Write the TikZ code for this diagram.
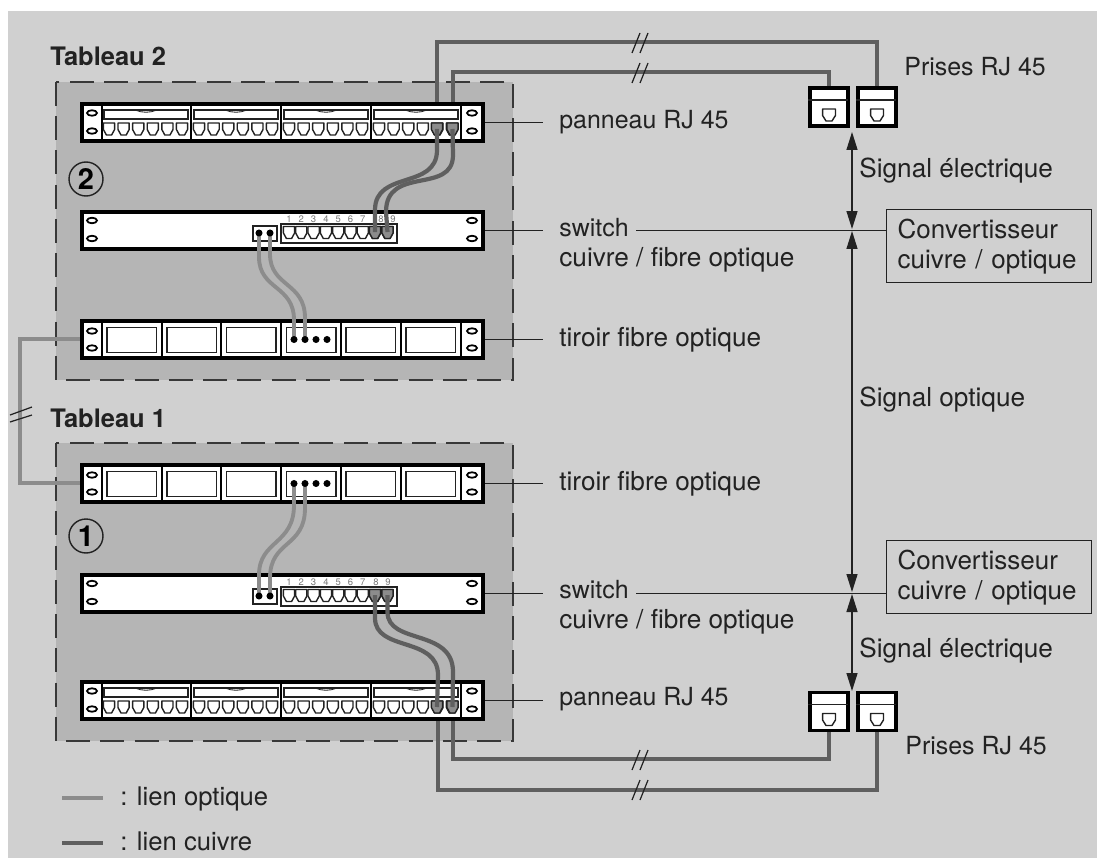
\documentclass[tikz,border=0pt]{standalone}
\usepackage{fontspec}
\setmainfont{TeX Gyre Heros}
\usepackage{xcolor}
\usetikzlibrary{arrows.meta}
\definecolor{fond}{RGB}{208,208,208}
\definecolor{tableau}{RGB}{181,181,181}
\definecolor{optique}{RGB}{140,140,140}
\definecolor{cuivre}{RGB}{95,95,95}
\definecolor{encre}{RGB}{34,34,34}

\tikzset{
  rack/.style={draw=black,fill=white,line width=2.1pt,minimum width=8.02cm,minimum height=0.74cm,inner sep=0pt},
  cadre/.style={draw=encre!90,fill=tableau,line width=0.9pt,dash pattern=on 0.48cm off 0.205cm},
  txt/.style={anchor=base west,inner sep=0pt,text=encre,font=\fontsize{14.2}{17}\selectfont},
  txtl/.style={txt,font=\fontsize{14.9}{17}\selectfont},
  titre/.style={txt,font=\fontsize{14.5}{17}\selectfont\bfseries},
  conv/.style={draw=encre,line width=0.8pt,anchor=north west,minimum width=4.1cm,minimum height=1.46cm,
    align=left,text width=3.66cm,inner xsep=0.22cm,inner ysep=0pt,text=encre,font=\fontsize{14.8}{17}\selectfont},
  rond/.style={draw=encre,line width=0.8pt,circle,minimum size=0.68cm,inner sep=0pt,font=\fontsize{16.5}{17}\selectfont\bfseries},
  prise/.style={draw=black,fill=white,line width=2.1pt,minimum size=0.76cm,inner sep=0pt},
  lead/.style={draw=encre,line width=0.8pt},
  signal/.style={draw=encre,line width=0.8pt,{Triangle[length=0.36cm,width=0.22cm]}-{Triangle[length=0.36cm,width=0.22cm]}},
  fibre/.style={draw=optique,line width=2.2pt},
  cable/.style={draw=cuivre,line width=2.4pt},
  coupe/.style={draw=encre,line width=0.7pt},
  jack/.style={draw=encre,line width=0.8pt,line join=round},
}

% prise RJ vue de face
\newcommand{\rjjack}[3][white]{
\draw[jack,fill=#1,shift={({#2},{#3})}] (-5.6,-6) -- (5.6,-6) -- (5.6,0.5) -- (2.6,6) -- (-2.6,6) -- (-5.6,0.5) -- cycle;
}
\newcommand{\oreilles}[2]{
\foreach \ox in {92,472}{
\foreach \oy in {#1,#2}{
\draw[black,fill=white,line width=1pt] (\ox,\oy) ellipse (0.1cm and 0.055cm);
}}
}

\newcommand{\panneauRack}[2]{
\begin{scope}[shift={(0,#2)}]
\node[rack] (#1) at (282.5,18.5) {};
\oreilles{9}{27}
\foreach \sx in {102,191,281,371,461}{
\draw[black,line width=0.8pt] (\sx,1) -- (\sx,36);
}
\foreach \s in {0,90,180,270}{
\draw[encre,line width=0.7pt] (104+\s,6) rectangle (188+\s,15);
\draw[encre,line width=0.5pt] (135+\s,6) .. controls (142+\s,9) and (150+\s,9) .. (157+\s,6);
\foreach \i in {0,...,5}{
\rjjack{109+\s+14.6*\i}{25}
}
}
\rjjack[optique]{437}{25}
\rjjack[optique]{452.5}{25}
\coordinate (#1a) at (437,25);
\coordinate (#1b) at (452.5,25);
\end{scope}
}

\newcommand{\switchRack}[3]{
\begin{scope}[shift={(0,#2)}]
\node[rack] (#1) at (282.5,18.5) {};
\oreilles{8.5}{26.5}
\draw[encre,line width=0.8pt] (253,14) rectangle (277,29);
\draw[encre,line width=0.8pt] (281,12) rectangle (397,31);
\foreach \i in {1,...,9}{
\rjjack{289+12.3*(\i-1)}{20.5}
}
\rjjack[optique]{375}{20.5}
\rjjack[optique]{387.5}{20.5}
\foreach \i in {1,...,7}{
\node[text=encre!60,inner sep=0pt,font=\fontsize{5.4}{6}\selectfont] (#1n\i) at (289+12.3*\i-12.3,7) {\i};
}
\node[text=encre!60,inner sep=0pt,font=\fontsize{5.4}{6}\selectfont] (#1n8) at (376+#3,7) {8};
\node[text=encre!60,inner sep=0pt,font=\fontsize{5.4}{6}\selectfont] (#1n9) at (388+#3,7) {9};
\coordinate (#1a) at (375,20);
\coordinate (#1b) at (387.5,20);
\coordinate (#1c) at (259,21);
\coordinate (#1d) at (270,21);
\end{scope}
}

\newcommand{\tiroirRack}[2]{
\begin{scope}[shift={(0,#2)}]
\node[rack] (#1) at (282.5,18.5) {};
\oreilles{10}{27}
\foreach \sx in {102,162,221,281,341,401,461}{
\draw[black,line width=0.7pt] (\sx,1) -- (\sx,36);
}
\foreach \wx in {107,167,226.5,286.5,346,406}{
\draw[encre,line width=0.9pt] (\wx,6.5) rectangle +(49.5,25);
}
\foreach \dx in {316,327}{
\fill[black] (\dx,18.5) circle (2pt);
}
\coordinate (#1a) at (294,18.5);
\coordinate (#1b) at (305,18.5);
\end{scope}
}

\newcommand{\priseRJ}[3]{
\node[prise] (#1) at (#2,#3) {};
\draw[encre,line width=0.8pt] (#1.west) ++(0,-7) -- ++(40,0);
\begin{scope}[shift={(#2,#3)},xscale=1.15]
\rjjack{0}{8}
\end{scope}
}

\begin{document}
\begin{tikzpicture}[x=0.02cm,y=-0.02cm]
\fill[white] (0,0) rectangle (1097,858);
\useasboundingbox (0,0) rectangle (1097,858);
\fill[fond] (8,11) rectangle (1097,858);

\draw[cadre] (56,82) rectangle (513,380);
\draw[cadre] (56,443) rectangle (513,741);

% liens vers l'exterieur, sous les racks
\coordinate (pan2c) at (437,110);
\coordinate (pan2d) at (453,110);
\coordinate (pan1c) at (438,715);
\coordinate (pan1d) at (453,715);
\coordinate (tir2w) at (90,339);
\coordinate (tir1w) at (90,483);
\draw[fibre] (tir2w) -- (20,339) -- (20,483) -- (tir1w);
\draw[cable] (pan2c) -- (437,42) -- (877,42) -- (877,90);
\draw[cable] (pan2d) -- (453,72) -- (829,72) -- (829,90);
\draw[cable] (pan1c) -- (438,790) -- (877,790) -- (877,725);
\draw[cable] (pan1d) -- (453,759) -- (829,759) -- (829,725);

\panneauRack{pan2}{104}
\switchRack{sw2}{212}{5}
\tiroirRack{tir2}{321}
\tiroirRack{tir1}{465}
\switchRack{sw1}{575}{0}
\panneauRack{pan1}{682}

\priseRJ{pr2a}{829}{107}
\priseRJ{pr2b}{877}{107}
\priseRJ{pr1a}{829}{711.5}
\priseRJ{pr1b}{877}{711.5}

% cables dans les tableaux
\draw[cable] (pan2a) -- (437,150) .. controls (437,190) and (375,170) .. (375,210) -- (sw2a);
\draw[cable] (pan2b) -- (453,155) .. controls (453,195) and (386,165) .. (386,212) -- (sw2b);
\draw[fibre] (sw2c) -- (259,257) .. controls (259,290) and (294,285) .. (294,320) -- (tir2a);
\draw[fibre] (sw2d) -- (270,254) .. controls (270,287) and (305,282) .. (305,318) -- (tir2b);
\draw[fibre] (tir1a) -- (294,505) .. controls (294,545) and (259,540) .. (259,575) -- (sw1c);
\draw[fibre] (tir1b) -- (305,508) .. controls (305,548) and (270,540) .. (270,578) -- (sw1d);
\draw[cable] (sw1a) -- (375,618) .. controls (375,652) and (438,636) .. (438,675) -- (pan1a);
\draw[cable] (sw1b) -- (387.5,612) .. controls (387.5,645) and (453,628) .. (453,672) -- (pan1b);

% points de connexion, sur les fibres
\foreach \pt in {sw2c,sw2d,sw1c,sw1d,tir2a,tir2b,tir1a,tir1b}{
\fill[black] (\pt) circle (2pt);
}

% coupures
\draw[coupe] (632,53) -- (640,33);
\draw[coupe] (640,53) -- (648,33);
\draw[coupe] (632,83) -- (640,63);
\draw[coupe] (640,83) -- (648,63);
\draw[coupe] (632,770) -- (640,750);
\draw[coupe] (640,770) -- (648,750);
\draw[coupe] (632,800) -- (640,780);
\draw[coupe] (640,800) -- (648,780);
\draw[coupe] (10,415) -- (32,407);
\draw[coupe] (10,422) -- (32,415);

\node[titre] (t2) at (50,66) {Tableau 2};
\node[titre] (t1) at (50,427) {Tableau 1};
\node[rond] (n2) at (86,179) {2};
\node[rond] (n1) at (86,536) {1};

\node[txt] (lpan2) at (559,129) {panneau RJ 45};
\node[txt] (lsw2) at (559,236) {switch};
\node[txtl] (lcf2) at (559,266) {cuivre / fibre optique};
\node[txtl] (ltir2) at (559,346) {tiroir fibre optique};
\node[txtl] (ltir1) at (559,490) {tiroir fibre optique};
\node[txt] (lsw1) at (559,598) {switch};
\node[txtl] (lcf1) at (559,628) {cuivre / fibre optique};
\node[txt] (lpan1) at (559,705) {panneau RJ 45};

\node[txt] (lpr2) at (904,76) {Prises RJ 45};
\node[txt] (lpr1) at (905,754) {Prises RJ 45};
\node[txtl] (sige2) at (859,177) {Signal électrique};
\node[txtl] (sigo) at (859,406) {Signal optique};
\node[txtl] (sige1) at (859,657) {Signal électrique};

\node[conv] (conv2) at (886,209) {Convertisseur\\cuivre / optique};
\node[conv] (conv1) at (886,540) {Convertisseur\\cuivre / optique};

% renvois
\draw[lead,shorten >=0.32cm] (pan2.east) -- (pan2.east -| lpan2.west);
\draw[lead,shorten >=0.32cm] (sw2.east) -- (sw2.east -| lsw2.west);
\draw[lead,shorten >=0.32cm] (tir2.east) -- (tir2.east -| ltir2.west);
\draw[lead,shorten >=0.32cm] (tir1.east) -- (tir1.east -| ltir1.west);
\draw[lead,shorten >=0.32cm] (sw1.east) -- (sw1.east -| lsw1.west);
\draw[lead,shorten >=0.32cm] (pan1.east) -- (pan1.east -| lpan1.west);
\draw[lead,shorten <=0.14cm] (sw2.east -| lsw2.east) -- (sw2.east -| conv2.west);
\draw[lead,shorten <=0.14cm] (sw1.east -| lsw1.east) -- (sw1.east -| conv1.west);

% signaux
\coordinate (s0) at (852,132);
\coordinate (s1) at (852,229);
\coordinate (s2) at (852,231);
\coordinate (s3) at (852,592);
\coordinate (s4) at (852,594);
\coordinate (s5) at (852,691);
\draw[signal] (s0) -- (s1);
\draw[signal] (s2) -- (s3);
\draw[signal] (s4) -- (s5);

% legende
\coordinate (lg1) at (62,798);
\coordinate (lg2) at (103,798);
\coordinate (lg3) at (62,843);
\coordinate (lg4) at (103,843);
\draw[fibre] (lg1) -- (lg2);
\draw[cable] (lg3) -- (lg4);
\node[txtl,font=\fontsize{14.6}{17}\selectfont] (lopt) at (120,805) {: lien optique};
\node[txtl,font=\fontsize{14.6}{17}\selectfont] (lcui) at (120,850) {: lien cuivre};
\end{tikzpicture}
\end{document}
